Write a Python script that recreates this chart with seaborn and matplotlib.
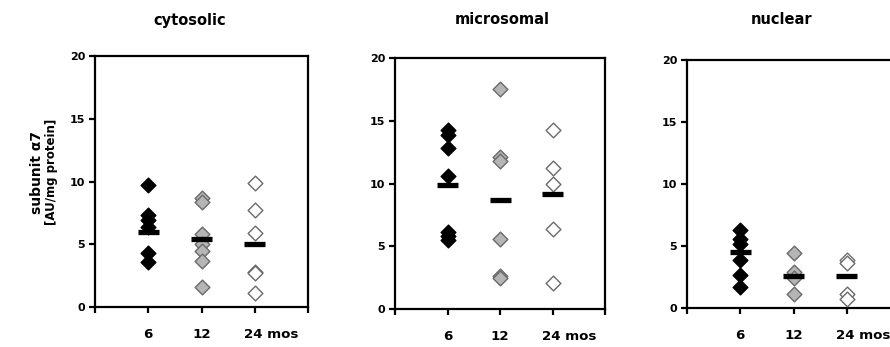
import pandas as pd
import matplotlib
matplotlib.use("Agg")
import matplotlib.pyplot as plt
import matplotlib.transforms as mtransforms
import seaborn as sns

# --- data ---
ages = ["6", "12", "24"]
age_labels = ["6", "12", "24 mos"]
fractions = ["cytosolic", "microsomal", "nuclear"]

cyto_6 = [9.7, 7.3, 6.9, 6.4, 4.3, 3.6]
cyto_12 = [8.7, 8.4, 5.8, 5.0, 4.5, 3.7, 1.6]
cyto_24 = [9.9, 7.7, 5.9, 2.8, 2.7, 1.1]
cyto_means = [6.0, 5.4, 5.0]

micro_6 = [14.3, 13.9, 12.8, 10.6, 6.1, 5.8, 5.5]
micro_12 = [17.5, 12.1, 11.8, 5.6, 2.6, 2.5]
micro_24 = [14.3, 11.2, 10.0, 6.4, 2.1]
micro_means = [9.9, 8.7, 9.2]

nuc_6 = [6.3, 5.6, 5.2, 3.9, 2.7, 1.7]
nuc_12 = [4.4, 2.9, 2.4, 1.1]
nuc_24 = [3.9, 3.6, 1.1, 0.7]
nuc_means = [4.5, 2.6, 2.6]

yticks = [0, 5, 10, 15, 20]

# marker styles per age group
FACE = {"6": "black", "12": "#b5b5b5", "24": "white"}
EDGE = {"6": "black", "12": "#6a6a6a", "24": "#6a6a6a"}

panels = {
    "cytosolic": ([cyto_6, cyto_12, cyto_24], cyto_means),
    "microsomal": ([micro_6, micro_12, micro_24], micro_means),
    "nuclear": ([nuc_6, nuc_12, nuc_24], nuc_means),
}

sns.set_style("white")
plt.rcParams["font.family"] = ["DejaVu Sans"]
plt.rcParams["font.weight"] = "bold"
plt.rcParams["text.color"] = "black"
plt.rcParams["xtick.color"] = "black"
plt.rcParams["ytick.color"] = "black"

W, H = 890, 347
fig = plt.figure(figsize=(W / 100, H / 100), dpi=100)

# axes boxes in pixels: left, top, right, bottom
boxes = [(95, 56, 308, 307), (395, 58, 605, 309), (687, 60, 900, 308)]
title_x = [190, 502, 782]

for frac, (l, t, r, b), tx in zip(fractions, boxes, title_x):
    ax = fig.add_axes([l / W, (H - b) / H, (r - l) / W, (b - t) / H])
    groups, means = panels[frac]
    rows = []
    for age, vals in zip(ages, groups):
        for v in vals:
            rows.append({"age": age, "value": v})
    df = pd.DataFrame(rows)

    for age in ages:
        sub = df[df["age"] == age]
        sns.stripplot(data=sub, x="age", y="value", order=ages, jitter=False,
                      marker="D", size=7.5, color=FACE[age],
                      edgecolor=EDGE[age], linewidth=1.0, ax=ax, zorder=3)

    for i, m in enumerate(means):
        ax.hlines(m, i - 0.2, i + 0.2, color="black", lw=3.8, zorder=4)

    ax.set_xlim(-1, 3)
    ax.set_ylim(0, 20)
    ax.set_xticks([-1, 0, 1, 2, 3])
    ax.set_xticklabels(["", age_labels[0], age_labels[1], age_labels[2], ""],
                       fontsize=9.6, fontweight="bold")
    ax.set_yticks(yticks)
    ax.set_yticklabels([str(v) for v in yticks], fontsize=8, fontweight="bold")
    ax.tick_params(axis="x", direction="out", length=4, width=1.6, pad=11,
                   bottom=True)
    ax.tick_params(axis="y", direction="out", length=4, width=1.6, pad=3,
                   left=True)
    lab = ax.get_xticklabels()[3]
    lab.set_ha("left")
    lab.set_transform(lab.get_transform() +
                      mtransforms.ScaledTranslation(-11 / 100, 0, fig.dpi_scale_trans))
    for sp in ax.spines.values():
        sp.set_visible(True)
        sp.set_color("black")
        sp.set_linewidth(1.6)
    ax.set_xlabel("")
    ax.set_ylabel("")
    fig.text(tx / W, 1 - 20 / H, frac, ha="center", va="center",
             fontsize=10.5, fontweight="bold")

fig.text(37 / W, 1 - 172 / H, "subunit \u03b17", rotation=90, ha="center",
         va="center", fontsize=10, fontweight="bold")
fig.text(52 / W, 1 - 172 / H, "[AU/mg protein]", rotation=90, ha="center",
         va="center", fontsize=8.5, fontweight="bold")

fig.savefig("out.png", dpi=100)
